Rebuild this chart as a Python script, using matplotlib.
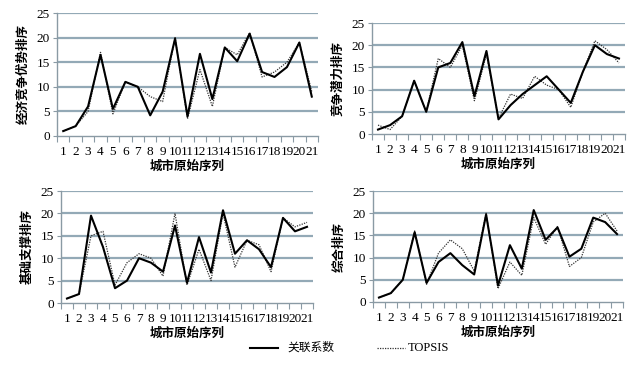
import matplotlib
matplotlib.use("Agg")
import matplotlib.pyplot as plt
from matplotlib.lines import Line2D

plt.rcParams['font.family'] = ['Liberation Serif', 'Noto Sans CJK SC', 'DejaVu Sans']

cities = list(range(1, 22))
tick_labels = [str(c) for c in cities]

econ_grey = [1, 2, 6, 16.5, 5.5, 11, 10, 4.2, 9, 19.8, 4, 16.7, 7.5, 18, 15.2, 20.8, 13, 12, 14, 19, 8]
econ_topsis = [1, 2, 5, 17, 4.5, 11, 10, 8, 7, 20, 3.5, 13.5, 6, 18, 16.5, 21, 12, 13, 15, 19, 9]

pot_grey = [1, 2, 4, 12, 5, 15, 16, 20.7, 8.5, 18.7, 3.3, 6.5, 9, 11, 13, 10, 7, 14, 20, 18, 17]
pot_topsis = [2, 1, 4, 12, 5, 17, 15, 20, 7.5, 18, 3.5, 9, 8, 13, 11, 10, 6, 14, 21, 19, 16]

base_grey = [1, 2, 19.5, 12.5, 3.3, 5, 10, 9, 7, 17.3, 4.5, 14.7, 6.8, 20.7, 11, 14, 12, 8, 19, 16, 17]
base_topsis = [1, 2, 15, 16, 4, 9, 11, 10, 6, 20, 4, 12, 5, 20, 8, 14, 13, 7, 19, 17, 18]

comp_grey = [1, 2, 5, 15.7, 4.3, 9, 11, 8.3, 6.2, 19.7, 3.7, 12.8, 7.5, 20.7, 14, 16.8, 10.2, 12, 19, 18, 15.3]
comp_topsis = [1, 2, 5, 16, 4, 11, 14, 12, 7, 20, 3, 9, 6, 19, 13, 17, 8, 10, 18, 20, 16]

ylabels = ['经济竞争优势排序', '竞争潜力排序', '基础支撑排序', '综合排序']
xlabel = '城市原始序列'
legend_labels = ['关联系数', 'TOPSIS']

W, H = 644, 365
fig = plt.figure(figsize=(W / 100, H / 100), dpi=100)

# pixel boxes: left, right, top, bottom
boxes = [(57, 318, 13, 136), (372, 625, 23, 134), (61, 313, 191, 303), (373, 623, 191, 302)]
series = [(econ_grey, econ_topsis), (pot_grey, pot_topsis), (base_grey, base_topsis), (comp_grey, comp_topsis)]

grid_c = '#93a9b6'
axis_c = '#8a9aa4'
for (l, r, t, b), (g, tp), yl in zip(boxes, series, ylabels):
    ax = fig.add_axes([l / W, 1 - b / H, (r - l) / W, (b - t) / H])
    ax.set_xlim(0.5, 21.5)
    ax.set_ylim(0, 25)
    ax.set_yticks([0, 5, 10, 15, 20, 25])
    for y in [5, 10, 15, 20, 25]:
        ax.axhline(y, color=grid_c, lw=1.6, zorder=0)
    ax.plot(cities, tp, color='#333333', lw=0.9, ls=(0, (1, 1)), zorder=2)
    ax.plot(cities, g, color='black', lw=1.5, zorder=3)
    for s in ['top', 'right']:
        ax.spines[s].set_visible(False)
    for s in ['left', 'bottom']:
        ax.spines[s].set_color(axis_c)
        ax.spines[s].set_linewidth(1.0)
    ax.set_xticks([c - 0.5 for c in cities] + [21.5])
    ax.set_xticklabels([])
    ax.set_xticks(cities, minor=True)
    ax.set_xticklabels(tick_labels, minor=True, fontsize=9.5)
    ax.tick_params(axis='x', which='major', length=4, color=axis_c, direction='out')
    ax.tick_params(axis='x', which='minor', length=0, pad=7)
    ax.tick_params(axis='y', length=3, color=axis_c, labelsize=9.5, pad=2)
    ax.set_xlabel(xlabel, fontsize=9, fontweight='bold', labelpad=2)
    ax.set_ylabel(yl, fontsize=9, fontweight='bold', labelpad=5)

# legend
yl_ = 1 - 348 / H
fig.add_artist(Line2D([250 / W, 278 / W], [yl_, yl_], color='black', lw=1.5))
fig.text(287 / W, yl_, legend_labels[0], fontsize=8.5, va='center', ha='left')
fig.add_artist(Line2D([377 / W, 405 / W], [yl_, yl_], color='#333333', lw=0.9, ls=(0, (1, 1))))
fig.text(408 / W, yl_, legend_labels[1], fontsize=9, va='center', ha='left')

fig.savefig('out.png', dpi=100)
